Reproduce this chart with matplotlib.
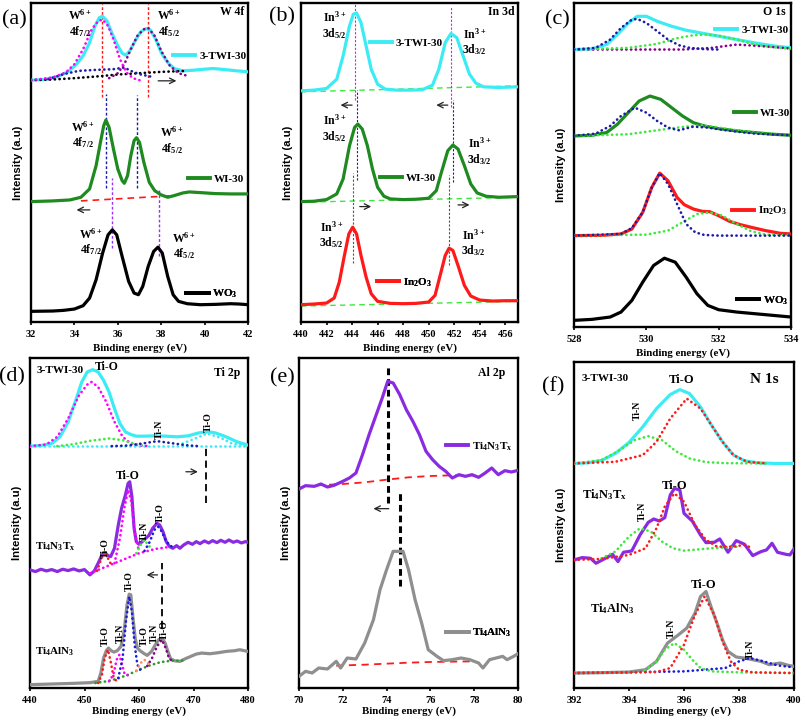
import numpy as np
import matplotlib.pyplot as plt
from matplotlib.lines import Line2D

plt.rcParams['font.family'] = ['Liberation Serif', 'DejaVu Serif']
plt.rcParams['font.weight'] = 'bold'
plt.rcParams['mathtext.default'] = 'regular'
plt.rcParams['axes.linewidth'] = 1.7
plt.rcParams['xtick.major.width'] = 1.2
plt.rcParams['xtick.major.size'] = 2.5
plt.rcParams['xtick.major.pad'] = 3
plt.rcParams['xtick.labelsize'] = 7.5

# ---------------- (a) W 4f ----------------
a_wo3 = [(32, 32), (33, 33), (33.5, 35), (34, 39), (34.4, 49), (34.7, 72), (35.0, 127), (35.3, 207),
         (35.55, 262), (35.75, 277), (35.95, 262), (36.2, 197), (36.5, 122), (36.75, 87), (36.95, 82),
         (37.15, 107), (37.4, 167), (37.65, 212), (37.85, 225), (38.05, 207), (38.3, 137), (38.55, 82),
         (38.8, 62), (39.2, 55), (39.8, 52), (40.5, 53), (41.2, 55), (41.6, 54), (42, 52)]
a_wi30 = [(32, 362), (33, 364), (33.8, 367), (34.3, 375), (34.7, 400), (35.0, 470), (35.2, 540), (35.35, 590),
          (35.45, 607), (35.6, 585), (35.8, 520), (36.0, 460), (36.2, 425), (36.3, 417), (36.45, 440),
          (36.6, 500), (36.75, 545), (36.86, 554), (37.0, 540), (37.2, 480), (37.45, 420), (37.7, 395),
          (38.0, 382), (38.3, 375), (38.6, 380), (39.0, 388), (39.3, 391), (39.8, 389), (40.5, 386),
          (41.2, 385), (42, 385)]
a_wi30_base = [(34.3, 364), (38.6, 380)]
a_twi = [(32, 727), (32.6, 729), (33.2, 737), (33.7, 752), (34.1, 775), (34.4, 800), (34.7, 840), (34.95, 890),
         (35.15, 915), (35.3, 919), (35.5, 905), (35.75, 865), (36.0, 830), (36.2, 808), (36.37, 802),
         (36.55, 815), (36.8, 845), (37.05, 872), (37.3, 882), (37.5, 878), (37.75, 850), (38.0, 810),
         (38.3, 780), (38.6, 762), (39.0, 755), (39.5, 757), (40.0, 760), (40.4, 762), (40.9, 759),
         (41.5, 755), (42, 752)]
a_twi_p1 = [(32, 727), (33.0, 735), (33.6, 750), (34.0, 775), (34.4, 820), (34.8, 880), (35.1, 905), (35.3, 909),
            (35.55, 890), (35.8, 850), (36.1, 790), (36.4, 750), (36.7, 733), (37.0, 727)]
a_twi_p2 = [(35.6, 733), (36.0, 748), (36.3, 775), (36.6, 820), (36.9, 860), (37.2, 880), (37.4, 884),
            (37.7, 860), (38.0, 815), (38.4, 770), (38.8, 748), (39.2, 740)]
a_twi_p3 = [(32.8, 730), (33.5, 745), (34.2, 755), (35.0, 758), (35.8, 760), (36.3, 765), (36.6, 755),
            (37.0, 745), (37.5, 738)]
a_twi_base = [(32, 727), (33, 729), (34, 733), (35, 738), (36, 744), (37, 748), (38, 752), (39.2, 755)]
a_vlines = [(35.25, 677, 957), (37.37, 677, 957), (35.45, 402, 685), (36.9, 402, 682), (35.75, 222, 432),
            (37.88, 197, 402)]

# ---------------- (b) In 3d ----------------
b_in2o3 = [(440, 52), (441, 54), (442, 57), (442.6, 72), (443.0, 120), (443.4, 200), (443.75, 265),
           (444.05, 285), (444.35, 265), (444.7, 200), (445.1, 135), (445.5, 85), (446.0, 62), (447, 56),
           (448, 55), (449, 56), (450, 60), (450.5, 80), (450.9, 140), (451.3, 200), (451.6, 222),
           (451.9, 215), (452.3, 170), (452.8, 110), (453.3, 78), (454, 66), (455, 63), (456, 64), (457, 64)]
b_wi30 = [(440, 362), (441, 363), (442, 368), (442.8, 385), (443.3, 430), (443.8, 530), (444.2, 585),
          (444.45, 595), (444.8, 580), (445.2, 530), (445.6, 460), (446.0, 405), (446.5, 378), (447, 370),
          (448, 368), (449, 369), (450, 372), (450.6, 395), (451.0, 450), (451.5, 515), (451.9, 532),
          (452.3, 520), (452.8, 470), (453.3, 415), (453.8, 388), (454.5, 378), (455.5, 375), (457, 377)]
b_twi = [(440, 695), (441, 697), (442, 702), (442.8, 730), (443.3, 800), (443.8, 890), (444.1, 925),
         (444.35, 929), (444.7, 900), (445.1, 830), (445.5, 760), (446.0, 715), (446.6, 700), (447.5, 697),
         (448.5, 697), (449.5, 698), (450.3, 712), (450.8, 760), (451.3, 840), (451.75, 867), (452.2, 855),
         (452.7, 800), (453.2, 745), (453.7, 718), (454.3, 707), (455.5, 705), (457, 707)]
b_bases = [[(440, 48), (457, 62)], [(440, 360), (457, 375)], [(440, 692), (457, 710)]]
b_vlines_top = [(444.2, 667, 962), (451.75, 647, 947)]
b_vlines_mid = [(444.4, 427, 697), (451.9, 422, 667)]
b_vlines_low = [(444.05, 177, 447), (451.6, 172, 442)]

# ---------------- (c) O 1s ----------------
c_wo3 = [(528, 20), (528.5, 23), (529.0, 30), (529.3, 45), (529.6, 80), (529.9, 135), (530.2, 185),
         (530.5, 207), (530.8, 195), (531.1, 150), (531.4, 100), (531.7, 65), (532.0, 52), (532.5, 45),
         (533, 40), (533.5, 35), (534, 30)]
c_in2o3 = [(528, 275), (528.8, 276), (529.3, 280), (529.6, 295), (529.9, 345), (530.15, 420), (530.37, 463),
           (530.6, 440), (530.85, 390), (531.05, 368), (531.3, 355), (531.55, 348), (531.75, 347),
           (532.0, 335), (532.3, 318), (532.6, 308), (532.9, 300), (533.3, 290), (533.7, 282), (534, 280)]
c_in2o3_p1 = [(528, 275), (529.3, 280), (529.6, 298), (529.9, 345), (530.15, 420), (530.37, 463),
              (530.6, 430), (530.85, 370), (531.1, 310), (531.35, 285), (531.6, 277), (532, 275), (534, 275)]
c_in2o3_p2 = [(528, 275), (530.0, 278), (530.6, 290), (531.0, 315), (531.4, 340), (531.75, 345),
              (532.1, 335), (532.5, 310), (532.9, 288), (533.3, 278), (534, 276)]
c_wi30 = [(528, 575), (528.5, 577), (528.9, 585), (529.2, 610), (529.5, 645), (529.8, 680), (530.1, 695),
          (530.4, 685), (530.7, 660), (531.0, 635), (531.3, 615), (531.6, 605), (532.0, 597), (532.5, 590),
          (533, 585), (533.5, 580), (534, 577)]
c_wi30_p1 = [(528, 575), (528.6, 582), (529.0, 605), (529.3, 635), (529.68, 660), (530.0, 645),
             (530.3, 620), (530.6, 600), (530.9, 592), (531.3, 603), (531.7, 600), (532, 595), (532.5, 588),
             (533, 582), (534, 577)]
c_wi30_p2 = [(528, 575), (529.5, 580), (530.5, 595), (531.0, 602), (531.5, 607), (532.0, 600),
             (532.5, 592), (533, 585), (534, 577)]
c_twi = [(528, 835), (528.5, 837), (528.9, 850), (529.2, 880), (529.5, 915), (529.75, 935), (530.0, 935),
         (530.3, 920), (530.7, 905), (531.1, 893), (531.5, 885), (532.0, 875), (532.5, 865), (533, 855),
         (533.5, 846), (534, 840)]
c_twi_p1 = [(528, 835), (528.6, 840), (529.0, 865), (529.3, 900), (529.6, 925), (529.75, 927), (530.0, 915),
            (530.3, 890), (530.6, 865), (530.9, 848), (531.2, 840), (531.6, 836), (532, 835)]
c_twi_p2 = [(528, 835), (529.5, 840), (530.3, 852), (530.8, 868), (531.3, 878), (531.6, 880), (532.0, 877),
            (532.5, 865), (533, 850), (533.5, 842), (534, 837)]
c_twi_p3 = [(528, 835), (531, 835), (531.8, 840), (532.5, 850), (533.2, 845), (534, 838)]

# ---------------- (d) Ti 2p ----------------
d_alx = [(440, 10), (444, 12), (448, 14), (451, 16), (452.5, 20), (453.0, 45), (453.5, 90), (454.0, 112),
         (454.4, 120), (454.9, 112), (455.4, 108), (456.0, 112), (456.7, 125), (457.3, 175), (457.8, 250),
         (458.2, 282), (458.5, 280), (458.9, 210), (459.3, 150), (459.7, 120), (460.2, 112), (460.8, 105),
         (461.5, 98), (462.3, 110), (463.0, 130), (463.6, 145), (464.2, 150), (464.8, 135), (465.3, 110),
         (465.8, 88), (466.5, 82), (467.5, 80), (468.5, 88), (469.5, 95), (470.5, 102), (471.5, 105),
         (473, 103), (474.5, 106), (476, 110), (477.5, 112), (478.5, 115), (480, 110)]
d_alx_bg = [(452, 15), (454, 20), (456, 28), (458, 40), (460, 55), (462, 68), (464, 78), (466, 82), (468, 82)]
d_alx_p1 = [(452.5, 15), (453.2, 40), (453.7, 90), (454.3, 115), (454.8, 80), (455.3, 35), (455.8, 22)]
d_alx_p2 = [(454.5, 20), (455.3, 40), (455.9, 85), (456.4, 100), (456.9, 70), (457.4, 40), (458, 38)]
d_alx_p3 = [(456.2, 30), (457.0, 90), (457.6, 200), (458.2, 275), (458.7, 230), (459.2, 130), (459.7, 70),
            (460.2, 55)]
d_alx_p4 = [(459.5, 52), (460.3, 75), (461.0, 85), (461.6, 75), (462.2, 68)]
d_alx_p5 = [(461.5, 66), (462.4, 90), (463.3, 125), (464.2, 145), (464.9, 120), (465.5, 90), (466, 82)]
d_mx = [(440, 355), (441, 350), (442, 357), (443, 352), (444, 356), (445, 350), (446, 357), (447, 353),
        (448, 358), (449, 352), (450, 356), (451, 340), (451.8, 352), (452.5, 375), (453.2, 400),
        (453.75, 407), (454.3, 398), (454.8, 395), (455.5, 420), (456.2, 490), (456.8, 540), (457.5, 580),
        (458.0, 615), (458.3, 620), (458.7, 575), (459.1, 480), (459.5, 440), (460.0, 432), (460.6, 440),
        (461.2, 450), (461.8, 458), (462.5, 480), (463.3, 495), (463.8, 490), (464.4, 470), (465.0, 440),
        (465.6, 425), (466.2, 420), (466.9, 428), (467.5, 420), (468.2, 430), (469, 438), (469.8, 432),
        (470.5, 440), (471.2, 434), (472, 442), (472.8, 436), (473.5, 443), (474.3, 437), (475, 444),
        (475.8, 438), (476.5, 445), (477.3, 438), (478, 442), (478.8, 436), (479.5, 440), (480, 438)]
d_mx_bg = [(451, 345), (454, 365), (457, 385), (460, 405), (463, 418), (466, 425)]
d_mx_p1 = [(452.3, 352), (453.0, 385), (453.7, 410), (454.3, 390), (455, 368)]
d_mx_p2 = [(455.5, 375), (456.5, 450), (457.3, 540), (458.0, 595), (458.6, 560), (459.2, 470), (460, 410)]
d_mx_p3 = [(459.5, 405), (460.3, 430), (461.0, 445), (461.7, 430), (462.3, 418)]
d_mx_p4 = [(461.0, 412), (462.0, 440), (462.8, 475), (463.5, 485), (464.2, 470), (465.0, 440), (466, 425)]
d_twi = [(440, 727), (442, 729), (444, 735), (445.5, 755), (447, 800), (448.5, 870), (449.5, 920), (450.5, 950),
         (451.5, 957), (452.5, 950), (453.5, 925), (454.5, 890), (455.5, 840), (456.5, 795), (457.5, 770),
         (458.5, 762), (459.5, 757), (461, 757), (463, 758), (465, 757), (467, 755), (469, 758),
         (471, 767), (472.7, 770), (474, 767), (476, 755), (478, 740), (480, 730)]
d_twi_p1 = [(440, 727), (443, 732), (445, 755), (447, 810), (449, 880), (450.5, 912), (451.3, 920),
            (452.5, 905), (454, 860), (455.5, 800), (457, 755), (458.5, 735), (460, 729), (462, 727)]
d_twi_p2 = [(445, 727), (448, 733), (451, 743), (454.5, 750), (457, 745), (459, 735), (461, 728)]
d_twi_p3 = [(455, 727), (458, 729), (461, 736), (463.3, 742), (466, 736), (468.5, 730), (471, 727)]
d_twi_p4 = [(468, 735), (470, 748), (472.5, 765), (475, 752), (477, 735), (480, 728)]
d_twi_bg = [(440, 727), (480, 727)]
d_vlines = [(472.3, 555, 725), (464.3, 180, 375)]

# ---------------- (e) Al 2p ----------------
e_mx = [(70, 597), (70.3, 607), (70.7, 605), (71.0, 612), (71.3, 603), (71.6, 608), (72.0, 620), (72.3, 630),
        (72.6, 645), (72.9, 700), (73.2, 760), (73.5, 815), (73.8, 870), (74.05, 920), (74.3, 915),
        (74.6, 880), (74.9, 835), (75.2, 800), (75.5, 760), (75.8, 710), (76.1, 685), (76.4, 665),
        (76.7, 650), (77.0, 630), (77.3, 640), (77.6, 635), (77.9, 640), (78.2, 632), (78.5, 645),
        (78.8, 660), (79.1, 640), (79.4, 652), (79.7, 648), (80, 653)]
e_mx_bg = [(70.8, 608), (72, 612), (73, 617), (74, 625), (75, 632), (76, 636), (77, 638), (78, 638)]
e_alx = [(70, 35), (70.3, 50), (70.6, 45), (70.9, 60), (71.3, 57), (71.7, 80), (71.9, 60), (72.2, 90),
         (72.6, 87), (73.0, 135), (73.4, 205), (73.7, 295), (74.0, 355), (74.3, 410), (74.75, 410),
         (75.0, 355), (75.3, 265), (75.6, 195), (75.9, 115), (76.3, 95), (76.6, 82), (77.0, 85), (77.4, 90),
         (77.8, 85), (78.2, 75), (78.4, 60), (78.7, 85), (79.0, 90), (79.3, 95), (79.5, 85), (79.8, 95),
         (80, 103)]
e_alx_bg = [(71.7, 67), (73, 70), (74, 73), (75, 76), (76, 78), (77, 79), (78, 80)]
e_vlines = [(74.05, 555, 965), (74.6, 305, 590)]

# ---------------- (f) N 1s ----------------
f_twi = [(392, 675), (392.5, 677), (393.0, 684), (393.5, 705), (394.0, 738), (394.5, 785), (395.0, 840),
         (395.5, 882), (395.85, 897), (396.2, 885), (396.6, 845), (397.0, 790), (397.4, 740), (397.8, 700),
         (398.2, 683), (398.7, 677), (399.3, 675), (400, 675)]
f_twi_p1 = [(392, 675), (393.5, 680), (394.5, 700), (395.0, 740), (395.5, 810), (396.1, 870), (396.6, 840),
            (397.0, 790), (397.4, 740), (397.8, 700), (398.3, 680), (399, 675)]
f_twi_p2 = [(392, 675), (393, 685), (393.6, 712), (394.2, 745), (394.7, 757), (395.2, 745), (395.7, 712),
            (396.2, 690), (396.8, 679), (397.5, 676), (399, 675)]
f_mx = [(392, 385), (392.3, 392), (392.6, 390), (392.8, 375), (393.1, 388), (393.4, 402), (393.6, 380),
        (393.8, 408), (394.1, 412), (394.4, 460), (394.7, 498), (394.9, 508), (395.1, 502), (395.3, 512),
        (395.5, 580), (395.65, 600), (395.85, 595), (396.0, 525), (396.3, 502), (396.6, 460), (396.8, 437),
        (397.1, 438), (397.3, 448), (397.6, 408), (397.9, 443), (398.2, 432), (398.5, 398), (398.8, 410),
        (399.0, 415), (399.2, 435), (399.4, 408), (399.7, 402), (399.85, 400), (400, 418)]
f_mx_p1 = [(392, 385), (393, 388), (394, 400), (394.6, 420), (395.0, 480), (395.3, 545), (395.65, 585),
           (396.0, 560), (396.4, 490), (396.8, 445), (397.2, 425), (397.8, 425), (398.2, 430), (398.5, 420)]
f_mx_p2 = [(393.0, 390), (393.5, 410), (394.0, 455), (394.4, 480), (394.8, 470), (395.2, 440), (395.6, 420),
           (396.0, 413), (397, 420), (398, 425)]
f_alx = [(392, 45), (393, 46), (394, 48), (394.6, 55), (395.0, 80), (395.4, 135), (395.8, 160), (396.1, 180),
         (396.4, 225), (396.6, 275), (396.8, 290), (397.0, 240), (397.2, 195), (397.4, 145), (397.6, 110),
         (397.9, 93), (398.2, 90), (398.5, 85), (398.8, 80), (399.1, 70), (399.5, 75), (399.8, 68), (400, 65)]
f_alx_p1 = [(392, 45), (395, 48), (395.5, 60), (396.0, 130), (396.4, 220), (396.75, 275), (397.1, 220),
            (397.4, 140), (397.7, 80), (398.0, 55), (398.5, 47), (400, 45)]
f_alx_p2 = [(392, 45), (394.5, 48), (395.0, 80), (395.3, 115), (395.65, 135), (396.0, 115), (396.3, 85),
            (396.6, 60), (397, 50), (398, 47), (400, 45)]
f_alx_p3 = [(392, 45), (396, 50), (397.5, 60), (398.0, 80), (398.4, 90), (398.9, 80), (399.4, 68), (400, 62)]

CYAN = '#3cecf4'
GREEN = '#1f8a1f'
RED = '#ff1a1a'
VIOLET = '#8a2be2'
GREY = '#8f8f8f'
MAG = '#ff00ff'
NAVY = '#1c1ca8'
LGREEN = '#3ee83e'
PURP = '#8b008b'
ORANGE = '#ff9060'


def xy(pts):
    a = np.array(pts, dtype=float)
    return a[:, 0], a[:, 1]


def curve(ax, pts, color, lw=2.3):
    ax.plot(*xy(pts), color=color, lw=lw, solid_joinstyle='round', zorder=3)


def dots(ax, pts, color, lw=1.9):
    ax.plot(*xy(pts), color=color, lw=lw, ls=(0, (0.1, 1.7)), dash_capstyle='round', zorder=4)


def dashed(ax, pts, color, lw=1.2):
    ax.plot(*xy(pts), color=color, lw=lw, ls=(0, (4, 3)), zorder=2)


def vline(ax, x, y0, y1, color, lw=1.0, ls=(0, (2, 1.5))):
    ax.plot([x, x], [y0, y1], color=color, lw=lw, ls=ls, zorder=2)


def arrow(ax, x0, x1, y):
    ax.annotate('', xy=(x1, y), xytext=(x0, y),
                arrowprops=dict(arrowstyle='->', lw=0.9, color='#222222', mutation_scale=10,
                                shrinkA=0, shrinkB=0))


def tag(ax, color, label, x, y):
    h = Line2D([], [], color=color, lw=2.8)
    leg = ax.legend([h], [label], loc='center left', bbox_to_anchor=(x, y), bbox_transform=ax.transData,
                    frameon=False, borderpad=0, borderaxespad=0, handlelength=2.0, handletextpad=0.35,
                    prop=dict(family='Liberation Serif', weight='bold', size=8))
    ax.add_artist(leg)


def note(ax, x, y, s, rot=0, size=8.5, ha='center'):
    ax.text(x, y, s, rotation=rot, fontsize=size, fontweight='bold', ha=ha, va='center',
            linespacing=1.1, zorder=6)


def box(l, t, r, b):
    return [l / 805, 1 - b / 721, (r - l) / 805, (b - t) / 721]


def setup(ax, xlim, ylim, ticks, title, tx, ty, tsize=8.5, xpad=3.5):
    ax.set_xlim(*xlim)
    ax.set_ylim(*ylim)
    ax.set_xticks(ticks)
    ax.set_yticks([])
    for t in ax.get_xticklabels():
        t.set_fontweight('bold')
    ax.set_xlabel('Binding energy (eV)', fontsize=7.8, fontweight='bold', labelpad=xpad)
    ax.set_ylabel('Intensity (a.u)', family='Liberation Sans', fontsize=8.2, fontweight='bold', labelpad=6)
    ax.text(tx, ty, title, transform=ax.transAxes, fontsize=tsize, fontweight='bold', ha='right', va='center')


fig = plt.figure(figsize=(8.05, 7.21), dpi=100)

# (a)
ax = fig.add_axes(box(31, 3, 248, 322))
setup(ax, (32, 42), (0, 959), range(32, 43, 2), 'W 4f', 0.985, 0.972)
curve(ax, a_wo3, 'black')
curve(ax, a_wi30, GREEN)
dashed(ax, a_wi30_base, RED)
dots(ax, a_twi_base, 'black')
dots(ax, a_twi_p3, NAVY)
dots(ax, a_twi_p2, PURP)
dots(ax, a_twi_p1, MAG)
curve(ax, a_twi, CYAN)
for (x, y0, y1), c in zip(a_vlines, [RED, RED, NAVY, NAVY, '#9b30ff', '#9b30ff']):
    vline(ax, x, y0, y1, c)
arrow(ax, 37.86, 38.7, 725)
arrow(ax, 34.71, 34.1, 337)
for x, y, s in [(34.25, 898, 'W$^{6+}$\n4f$_{7/2}$'), (38.35, 898, 'W$^{6+}$\n4f$_{5/2}$'),
                (34.4, 562, 'W$^{6+}$\n4f$_{7/2}$'), (38.5, 545, 'W$^{6+}$\n4f$_{5/2}$'),
                (34.75, 240, 'W$^{6+}$\n4f$_{7/2}$'), (39.05, 228, 'W$^{6+}$\n4f$_{5/2}$')]:
    note(ax, x, y, s)
tag(ax, CYAN, '3-TWI-30', 38.55, 799)
tag(ax, GREEN, 'WI-30', 39.24, 429)
tag(ax, 'black', 'WO$_3$', 39.16, 85)

# (b)
ax = fig.add_axes(box(301, 3, 518, 322))
setup(ax, (440, 457), (0, 959), range(440, 457, 2), 'In 3d', 0.985, 0.972)
for b in b_bases:
    dashed(ax, b, LGREEN, lw=1.0)
curve(ax, b_in2o3, RED)
curve(ax, b_wi30, GREEN)
curve(ax, b_twi, CYAN)
for x, y0, y1 in b_vlines_top:
    vline(ax, x, y0, y1, MAG, lw=0.8)
for x, y0, y1 in b_vlines_mid:
    vline(ax, x, y0, y1, NAVY, lw=0.8)
for x, y0, y1 in b_vlines_low:
    vline(ax, x, y0, y1, '#555555', lw=0.8)
arrow(ax, 444.0, 443.1, 652)
arrow(ax, 451.5, 450.6, 652)
arrow(ax, 444.6, 445.5, 347)
arrow(ax, 452.3, 453.2, 352)
for x, y, s in [(442.65, 892, 'In$^{3+}$\n3d$_{5/2}$'), (453.6, 842, 'In$^{3+}$\n3d$_{3/2}$'),
                (442.65, 582, 'In$^{3+}$\n3d$_{5/2}$'), (454.0, 512, 'In$^{3+}$\n3d$_{3/2}$'),
                (442.4, 262, 'In$^{3+}$\n3d$_{5/2}$'), (453.5, 237, 'In$^{3+}$\n3d$_{3/2}$')]:
    note(ax, x, y, s)
tag(ax, CYAN, '3-TWI-30', 445.4, 839)
tag(ax, GREEN, 'WI-30', 446.18, 432)
tag(ax, RED, 'In$_2$O$_3$', 445.92, 119)

# (c)
ax = fig.add_axes(box(574, 3, 791, 327))
setup(ax, (528, 534), (0, 975), [528, 530, 532, 534], 'O 1s', 0.975, 0.972)
curve(ax, c_wo3, 'black')
curve(ax, c_in2o3, RED)
dots(ax, c_in2o3_p2, LGREEN)
dots(ax, c_in2o3_p1, NAVY)
curve(ax, c_wi30, GREEN)
dots(ax, c_wi30_p2, LGREEN)
dots(ax, c_wi30_p1, NAVY)
curve(ax, c_twi, CYAN)
dots(ax, c_twi_p3, PURP)
dots(ax, c_twi_p2, LGREEN)
dots(ax, c_twi_p1, NAVY)
tag(ax, CYAN, '3-TWI-30', 531.9, 893)
tag(ax, GREEN, 'WI-30', 532.42, 645)
tag(ax, RED, 'In$_2$O$_3$', 532.36, 350)
tag(ax, 'black', 'WO$_3$', 532.5, 80)

# (d)
ax = fig.add_axes(box(30, 358, 248, 688))
setup(ax, (440, 480), (0, 992), range(440, 481, 10), 'Ti 2p', 0.965, 0.955, xpad=1)
curve(ax, d_alx, GREY)
dots(ax, d_alx_bg, '#2a9a2a')
dots(ax, d_alx_p1, RED)
dots(ax, d_alx_p2, MAG)
dots(ax, d_alx_p3, '#1a1ae0')
dots(ax, d_alx_p4, ORANGE)
dots(ax, d_alx_p5, PURP)
curve(ax, d_mx, VIOLET)
dots(ax, d_mx_bg, MAG)
dots(ax, d_mx_p1, RED)
dots(ax, d_mx_p2, MAG)
dots(ax, d_mx_p3, LGREEN)
dots(ax, d_mx_p4, '#1a1ae0')
curve(ax, d_twi, CYAN)
dots(ax, d_twi_bg, CYAN)
dots(ax, d_twi_p4, CYAN)
dots(ax, d_twi_p1, MAG)
dots(ax, d_twi_p2, LGREEN)
dots(ax, d_twi_p3, NAVY)
for x, y0, y1 in d_vlines:
    vline(ax, x, y0, y1, 'black', lw=1.3, ls=(0, (4, 2.5)))
arrow(ax, 468.6, 470.8, 650)
arrow(ax, 463.4, 461.4, 340)
ax.text(0.03, 0.962, '3-TWI-30', transform=ax.transAxes, fontsize=8, fontweight='bold', va='center')
note(ax, 454.0, 965, 'Ti-O')
note(ax, 463.7, 777, 'Ti-N', rot=90, size=7)
note(ax, 472.8, 800, 'Ti-O', rot=90, size=7)
note(ax, 458.0, 637, 'Ti-O')
note(ax, 453.9, 420, 'Ti-O', rot=90, size=7)
note(ax, 460.9, 470, 'Ti-N', rot=90, size=7)
note(ax, 464.0, 527, 'Ti-O', rot=90, size=7)
note(ax, 441.0, 425, 'Ti$_4$N$_3$T$_x$', ha='left', size=8)
note(ax, 458.3, 322, 'Ti-O', rot=90, size=7)
note(ax, 453.9, 155, 'Ti-O', rot=90, size=7)
note(ax, 456.6, 165, 'Ti-N', rot=90, size=7)
note(ax, 460.9, 157, 'Ti-O', rot=90, size=7)
note(ax, 462.9, 165, 'Ti-N', rot=90, size=7)
note(ax, 464.7, 175, 'Ti-O', rot=90, size=7)
note(ax, 441.0, 110, 'Ti$_4$AlN$_3$', ha='left', size=8)

# (e)
ax = fig.add_axes(box(299, 358, 518, 688))
setup(ax, (70, 80), (0, 990), range(70, 81, 2), 'Al 2p', 0.94, 0.955, xpad=1)
curve(ax, e_mx, VIOLET)
dashed(ax, e_mx_bg, RED, lw=1.3)
curve(ax, e_alx, GREY)
dashed(ax, e_alx_bg, RED, lw=1.3)
for x, y0, y1 in e_vlines:
    vline(ax, x, y0, y1, 'black', lw=2.2, ls=(0, (2.2, 1.3)))
arrow(ax, 74.1, 73.4, 538)
tag(ax, VIOLET, 'Ti$_4$N$_3$T$_x$', 76.7, 725)
tag(ax, GREY, 'Ti$_4$AlN$_3$', 76.73, 165)

# (f)
ax = fig.add_axes(box(574, 362, 794, 688))
setup(ax, (392, 400), (0, 980), range(392, 401, 2), 'N 1s', 0.93, 0.945, tsize=11, xpad=1)
curve(ax, f_twi, CYAN)
dots(ax, f_twi_p2, LGREEN)
dots(ax, f_twi_p1, RED)
curve(ax, f_mx, VIOLET)
dots(ax, f_mx_p2, LGREEN)
dots(ax, f_mx_p1, RED)
curve(ax, f_alx, GREY)
dots(ax, f_alx_p3, '#1a1ae0')
dots(ax, f_alx_p2, LGREEN)
dots(ax, f_alx_p1, RED)
ax.text(0.036, 0.948, '3-TWI-30', transform=ax.transAxes, fontsize=8, fontweight='bold', va='center')
note(ax, 395.9, 927, 'Ti-O', size=9)
note(ax, 394.3, 835, 'Ti-N', rot=90, size=7)
note(ax, 395.65, 607, 'Ti-O', size=9)
note(ax, 392.3, 580, 'Ti$_4$N$_3$T$_x$', ha='left', size=9)
note(ax, 394.5, 530, 'Ti-N', rot=90, size=7)
note(ax, 396.7, 310, 'Ti-O', size=9)
note(ax, 392.6, 240, 'Ti$_4$AlN$_3$', ha='left', size=9)
note(ax, 395.55, 180, 'Ti-N', rot=90, size=7)
note(ax, 398.4, 115, 'Ti-N', rot=90, size=7)

for x, y, s in [(14, 20, '(a)'), (282, 17, '(b)'), (557, 20, '(c)'),
                (12, 377, '(d)'), (282, 378, '(e)'), (553, 387, '(f)')]:
    fig.text(x / 805, 1 - y / 721, s, fontsize=16, fontweight='normal', ha='center', va='center')

fig.savefig('out.png', dpi=100)
